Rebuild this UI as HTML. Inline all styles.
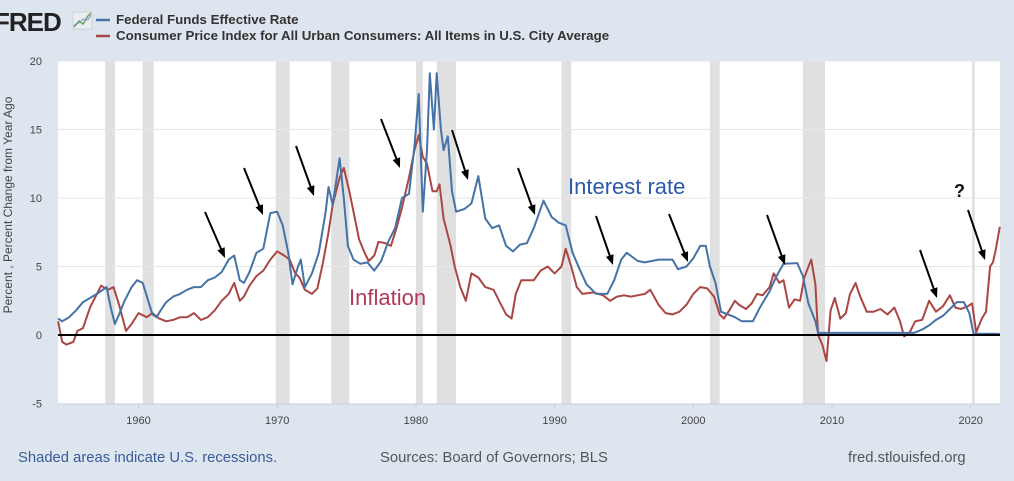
<!DOCTYPE html>
<html><head><meta charset="utf-8"><style>
html,body{margin:0;padding:0;}
body{width:1014px;height:481px;background:#dde6ef;overflow:hidden;font-family:"Liberation Sans",Arial,sans-serif;}
</style></head><body>
<svg id="chart" width="1014" height="481" xmlns="http://www.w3.org/2000/svg" style="position:absolute;left:0;top:0">
  <g>
    <text x="-6" y="31" font-size="26" font-weight="bold" fill="#222" letter-spacing="-1">FRED</text>
    <g>
      <rect x="73" y="12" width="19" height="17" fill="#e8eef2" stroke="#bbb" stroke-width="0.5"/>
      <polyline points="74,27 79,21 83,24 88,16 91,13" fill="none" stroke="#6aa35a" stroke-width="1.5"/>
      <polyline points="74,25 79,23 83,19 88,20 91,15" fill="none" stroke="#7a9ab8" stroke-width="1"/>
    </g>
    <line x1="96" y1="20" x2="110" y2="20" stroke="#4572a7" stroke-width="2.5"/>
    <text x="116" y="24" font-size="13.3" font-weight="bold" fill="#333">Federal Funds Effective Rate</text>
    <line x1="96" y1="36" x2="110" y2="36" stroke="#aa4643" stroke-width="2.5"/>
    <text x="116" y="40" font-size="13.3" font-weight="bold" fill="#333">Consumer Price Index for All Urban Consumers: All Items in U.S. City Average</text>
  </g>
  <rect x="58" y="61" width="942" height="343" fill="#fff"/>
  <g id="rec"></g>
  <g id="grid"></g>
  <g id="yt"></g>
  <g id="xt"></g>
  <text transform="translate(12,205) rotate(-90)" text-anchor="middle" font-size="12" fill="#444">Percent , Percent Change from Year Ago</text>
  <g id="series"></g>
  <g id="ann"></g>
  <text x="568" y="194" font-size="22" fill="#2a5aa8">Interest rate</text>
  <text x="349" y="305" font-size="22" fill="#b03a5a">Inflation</text>
  <text x="954" y="197" font-size="18" font-weight="bold" fill="#111">?</text>
  <text x="18" y="462" font-size="14.8" fill="#3a5a9a">Shaded areas indicate U.S. recessions.</text>
  <text x="380" y="462" font-size="14.8" fill="#555">Sources: Board of Governors; BLS</text>
  <text x="848" y="462" font-size="14.8" fill="#555">fred.stlouisfed.org</text>
</svg>
<script>
const recStart=[1957.6,1960.3,1969.9,1973.9,1980.0,1981.5,1990.5,2001.2,2007.9,2020.1];
const recEnd=[1958.3,1961.1,1970.9,1975.2,1980.5,1982.9,1991.2,2001.9,2009.5,2020.3];
const yTicks=[-5,0,5,10,15,20];
const xTicks=[1960,1970,1980,1990,2000,2010,2020];
const fedYears=[1954.2,1954.5,1955,1955.5,1956,1956.5,1957,1957.7,1958,1958.3,1958.6,1959,1959.5,1959.9,1960.3,1960.7,1961,1961.3,1961.6,1962,1962.5,1963,1963.5,1964,1964.5,1965,1965.5,1966,1966.5,1966.9,1967.3,1967.6,1968,1968.5,1969,1969.5,1970,1970.4,1970.8,1971.1,1971.5,1971.7,1972,1972.5,1973,1973.5,1973.7,1974,1974.5,1974.8,1975.1,1975.5,1976,1976.5,1977,1977.5,1978,1978.5,1979,1979.5,1979.9,1980.2,1980.5,1980.8,1981,1981.3,1981.5,1981.8,1982,1982.3,1982.6,1982.9,1983.5,1984,1984.5,1985,1985.5,1986,1986.5,1987,1987.5,1988,1988.5,1989.2,1989.8,1990.3,1990.8,1991.3,1991.8,1992.3,1993,1993.8,1994.3,1994.8,1995.2,1996,1996.5,1997.5,1998.5,1998.9,1999.5,2000,2000.5,2000.9,2001.2,2001.6,2002,2003,2003.5,2004.3,2004.8,2005.5,2006,2006.5,2007.5,2007.9,2008.3,2008.8,2009,2015.9,2016.5,2017,2017.5,2018,2018.5,2019,2019.5,2019.9,2020.2,2022.1];
const fedValues=[1.2,1.0,1.3,1.8,2.4,2.7,3.0,3.5,2.0,0.8,1.5,2.5,3.5,4.0,3.8,2.5,1.5,1.3,1.8,2.4,2.8,3.0,3.3,3.5,3.5,4.0,4.2,4.6,5.5,5.8,4.0,3.8,4.6,6.0,6.3,8.9,9.0,8.0,6.0,3.7,5.0,5.5,3.5,4.5,6.0,9.0,10.8,9.5,12.9,10.0,6.5,5.5,5.2,5.3,4.7,5.4,6.8,7.8,10.0,10.3,13.8,17.6,9.0,13.5,19.1,15.0,19.1,15.0,13.5,14.5,10.5,9.0,9.2,9.6,11.6,8.5,7.8,8.0,6.5,6.1,6.6,6.7,7.8,9.8,8.6,8.2,8.0,6.0,4.8,3.7,3.0,3.0,4.0,5.5,6.0,5.4,5.3,5.5,5.5,4.8,5.0,5.6,6.5,6.5,5.0,3.8,1.7,1.3,1.0,1.0,2.0,3.2,4.3,5.2,5.25,4.3,2.3,1.0,0.15,0.15,0.4,0.7,1.1,1.4,1.9,2.4,2.4,1.6,0.1,0.08];
const cpiYears=[1954.2,1954.5,1954.8,1955.3,1955.6,1956,1956.5,1957,1957.3,1957.8,1958.2,1958.6,1959.1,1959.5,1960,1960.6,1961,1961.5,1962,1962.5,1963,1963.5,1964,1964.5,1965,1965.5,1966,1966.5,1966.9,1967.3,1967.6,1968,1968.5,1969,1969.5,1970,1970.5,1970.9,1971.3,1971.6,1972,1972.5,1972.9,1973.3,1973.7,1974,1974.5,1974.8,1975.2,1975.5,1975.9,1976.3,1976.6,1977,1977.3,1977.8,1978.2,1978.6,1979,1979.5,1979.9,1980.2,1980.5,1980.8,1981.2,1981.5,1981.7,1982,1982.5,1982.8,1983.2,1983.6,1984,1984.5,1985,1985.6,1986,1986.5,1986.9,1987.2,1987.6,1988,1988.5,1989,1989.5,1990,1990.5,1990.8,1991.2,1991.6,1992,1992.8,1993.5,1994,1994.5,1995,1995.5,1996,1996.5,1996.9,1997.5,1998,1998.5,1999,1999.5,2000,2000.5,2001,2001.5,2001.9,2002.2,2002.6,2003,2003.3,2003.8,2004.2,2004.6,2005,2005.5,2005.8,2006.2,2006.5,2006.9,2007.3,2007.7,2008,2008.5,2008.8,2009,2009.3,2009.6,2009.9,2010.2,2010.6,2011,2011.3,2011.7,2012,2012.5,2013,2013.5,2014,2014.5,2014.9,2015.2,2015.6,2016,2016.5,2017,2017.5,2018,2018.5,2018.9,2019.3,2019.8,2020.1,2020.4,2020.8,2021.1,2021.4,2021.6,2021.8,2022.1];
const cpiValues=[1.0,-0.5,-0.7,-0.5,0.3,0.5,2.0,3.0,3.6,3.3,3.5,2.2,0.3,0.8,1.6,1.3,1.6,1.2,1.0,1.1,1.3,1.3,1.6,1.1,1.3,1.8,2.5,3.0,3.8,2.5,2.8,3.6,4.3,4.7,5.5,6.1,5.8,5.5,4.5,4.2,3.3,3.0,3.4,5.3,7.5,9.5,11.5,12.2,10.5,9.0,7.0,6.0,5.4,5.8,6.8,6.7,6.5,7.8,9.3,11.5,13.5,14.6,13.0,12.5,10.5,10.5,11.0,8.5,6.5,5.0,3.5,2.5,4.5,4.2,3.5,3.3,2.5,1.5,1.2,3.0,4.0,4.0,4.0,4.7,5.0,4.5,5.0,6.3,5.0,3.5,3.0,3.1,2.9,2.5,2.8,2.9,2.8,2.9,3.0,3.3,2.2,1.6,1.5,1.7,2.2,3.0,3.5,3.4,2.8,1.5,1.2,1.8,2.5,2.2,1.9,2.3,3.0,2.9,3.5,4.5,3.8,4.0,2.0,2.6,2.5,4.2,5.5,3.7,0.0,-0.7,-1.9,1.8,2.7,1.2,1.6,3.0,3.8,2.9,1.7,1.7,1.9,1.5,2.0,1.0,-0.1,0.2,1.0,1.1,2.5,1.7,2.1,2.9,2.0,1.9,2.1,2.3,0.2,1.2,1.7,5.0,5.3,6.2,7.9];
const arrowStartX=[205,244,296,381,452,518,596,669,767,920,968];
const arrowStartY=[212,168,146,119,130,168,216,214,215,250,210];
const arrowEndX=[225,263,314,400,468,535,613,688,785,937,985];
const arrowEndY=[258,215,196,168,180,215,265,262,265,298,260];

const NS="http://www.w3.org/2000/svg";
const X0=58,X1=1000,Y0=61,Y1=404;
function xs(yr){return 138.5+(yr-1960)*13.87;}
function ys(v){return 335-v*13.7;}
function mk(tag,attrs,parent){const e=document.createElementNS(NS,tag);for(const k in attrs)e.setAttribute(k,attrs[k]);parent.appendChild(e);return e;}
function clampX(x){return Math.max(X0,Math.min(X1,x));}

const rec=document.getElementById('rec');
recStart.forEach((s,i)=>{
  const r=mk('rect',{x:clampX(xs(s)),y:Y0,width:xs(recEnd[i])-xs(s),height:Y1-Y0,fill:'#e0e0e0'},rec);
  
  
});
const grid=document.getElementById('grid'),yt=document.getElementById('yt'),xt=document.getElementById('xt');
yTicks.forEach(v=>{
  if(v!==0&&v!==-5){const l=mk('line',{x1:X0,x2:X1,y1:ys(v),y2:ys(v),stroke:'#e6e6e6','stroke-width':1},grid);
  
  }
  const t=mk('text',{x:42,y:ys(v)+4,'text-anchor':'end','font-size':11,fill:'#444'},yt);
  t.textContent=v;
  
  
});
mk('line',{x1:X0,x2:X1,y1:Y1,y2:Y1,stroke:'#c8d0da','stroke-width':1},xt);
xTicks.forEach(v=>{
  mk('line',{x1:xs(v),x2:xs(v),y1:Y1,y2:Y1+5,stroke:'#c8d0da','stroke-width':1},xt);
  const t=mk('text',{x:xs(v),y:Y1+20,'text-anchor':'middle','font-size':11,fill:'#444'},xt);
  t.textContent=v;
  
  
});
const ser=document.getElementById('series');
function pts(yrs,vals){return yrs.map((y,i)=>clampX(xs(y)).toFixed(1)+','+ys(vals[i]).toFixed(1)).join(' ');}
const c=mk('polyline',{points:pts(cpiYears,cpiValues),fill:'none',stroke:'#aa4643','stroke-width':2,'stroke-linejoin':'round'},ser);


const f=mk('polyline',{points:pts(fedYears,fedValues),fill:'none',stroke:'#4572a7','stroke-width':2,'stroke-linejoin':'round'},ser);


const z=mk('line',{x1:X0,x2:X1,y1:ys(0),y2:ys(0),stroke:'#000','stroke-width':2},ser);


const ann=document.getElementById('ann');
arrowStartX.forEach((x,i)=>{
  const x2=arrowEndX[i],y2=arrowEndY[i],y1=arrowStartY[i];
  const dx=x2-x,dy=y2-y1,L=Math.hypot(dx,dy),ux=dx/L,uy=dy/L;
  const g=mk('g',{},ann);
  
  
  mk('line',{x1:x,y1:y1,x2:x2-ux*6,y2:y2-uy*6,stroke:'#000','stroke-width':2},g);
  const bx=x2-ux*10,by=y2-uy*10;
  mk('polygon',{points:`${x2},${y2} ${bx-uy*4},${by+ux*4} ${bx+uy*4},${by-ux*4}`,fill:'#000'},g);
});
</script>
</body></html>
